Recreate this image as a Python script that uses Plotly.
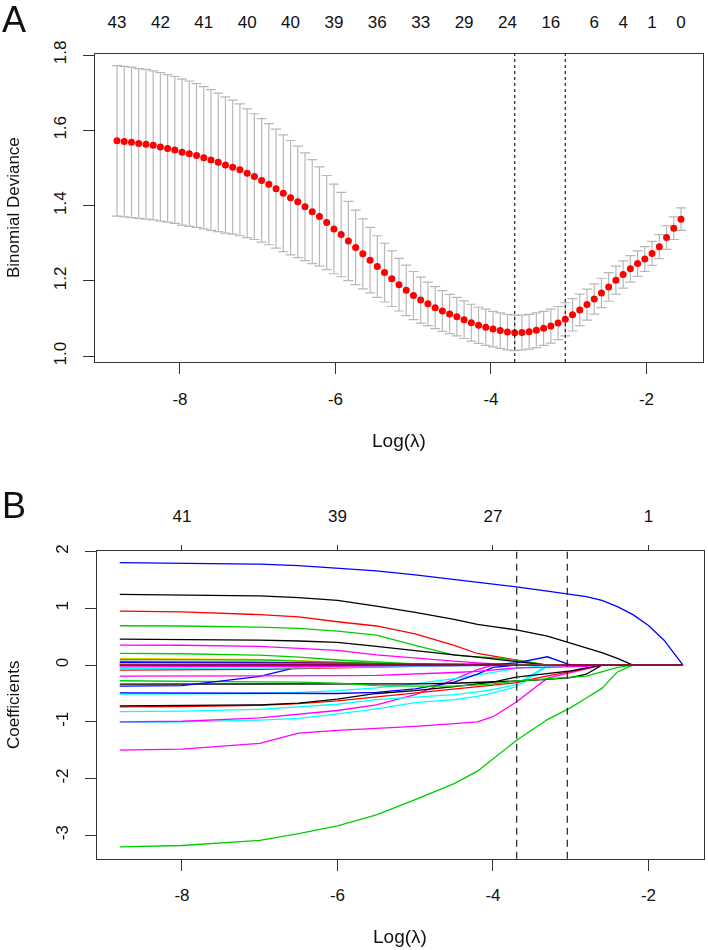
import plotly.graph_objects as go

# ---------------- panel A : cross-validated binomial deviance ----------------
log_lambda = [
    -8.810, -8.717, -8.624, -8.531, -8.438, -8.345, -8.252, -8.159, -8.066, -7.973,
    -7.880, -7.787, -7.694, -7.601, -7.508, -7.415, -7.322, -7.229, -7.136, -7.043,
    -6.950, -6.857, -6.764, -6.671, -6.578, -6.485, -6.392, -6.299, -6.206, -6.113,
    -6.020, -5.927, -5.834, -5.741, -5.648, -5.555, -5.462, -5.369, -5.276, -5.183,
    -5.090, -4.997, -4.904, -4.811, -4.718, -4.625, -4.532, -4.439, -4.346, -4.253,
    -4.160, -4.067, -3.974, -3.881, -3.788, -3.695, -3.602, -3.509, -3.416, -3.323,
    -3.230, -3.137, -3.044, -2.951, -2.858, -2.765, -2.672, -2.579, -2.486, -2.393,
    -2.300, -2.207, -2.114, -2.021, -1.928, -1.835, -1.742, -1.649, -1.556]

mean_dev = [
    1.572, 1.570, 1.568, 1.565, 1.563, 1.560, 1.556, 1.552, 1.548, 1.542,
    1.538, 1.533, 1.527, 1.521, 1.515, 1.508, 1.502, 1.495, 1.486, 1.477,
    1.467, 1.457, 1.445, 1.433, 1.421, 1.410, 1.397, 1.384, 1.371, 1.355,
    1.338, 1.323, 1.306, 1.289, 1.272, 1.255, 1.238, 1.222, 1.206, 1.190,
    1.175, 1.161, 1.149, 1.139, 1.129, 1.120, 1.112, 1.105, 1.097, 1.089,
    1.082, 1.077, 1.072, 1.068, 1.064, 1.062, 1.063, 1.065, 1.069, 1.074,
    1.080, 1.088, 1.098, 1.110, 1.123, 1.137, 1.152, 1.168, 1.184, 1.202,
    1.217, 1.232, 1.246, 1.258, 1.273, 1.291, 1.315, 1.340, 1.364]

se_dev = [
    0.200, 0.200, 0.200, 0.199, 0.199, 0.198, 0.197, 0.196, 0.195, 0.194,
    0.193, 0.191, 0.189, 0.187, 0.184, 0.181, 0.178, 0.175, 0.171, 0.167,
    0.164, 0.161, 0.158, 0.155, 0.152, 0.148, 0.143, 0.138, 0.132, 0.125,
    0.119, 0.112, 0.105, 0.099, 0.093, 0.087, 0.082, 0.078, 0.074, 0.070,
    0.067, 0.064, 0.061, 0.058, 0.056, 0.054, 0.052, 0.051, 0.050, 0.049,
    0.048, 0.048, 0.047, 0.047, 0.047, 0.047, 0.046, 0.046, 0.046, 0.045,
    0.045, 0.044, 0.044, 0.043, 0.042, 0.041, 0.040, 0.039, 0.038, 0.037,
    0.036, 0.035, 0.034, 0.033, 0.032, 0.032, 0.031, 0.030, 0.030]

top_a_pos = [-8.810, -8.252, -7.694, -7.136, -6.578, -6.020, -5.462, -4.904,
             -4.346, -3.788, -3.230, -2.672, -2.300, -1.928, -1.556]
top_a_labels = ["43", "42", "41", "40", "40", "39", "36", "33",
                "29", "24", "16", "6", "4", "1", "0"]

lambda_min_log = -3.695
lambda_1se_log = -3.044

x_ticks = [-8, -6, -4, -2]
x_ticklabels = ["-8", "-6", "-4", "-2"]
dev_ticks = [1.0, 1.2, 1.4, 1.6, 1.8]
dev_ticklabels = ["1.0", "1.2", "1.4", "1.6", "1.8"]
coef_ticks = [-3, -2, -1, 0, 1, 2]
coef_ticklabels = ["-3", "-2", "-1", "0", "1", "2"]

# ---------------- panel B : coefficient paths ----------------
knots = [-8.80, -8.0, -7.0, -6.5, -6.0, -5.5, -5.0, -4.5, -4.2, -4.0,
         -3.7, -3.3, -3.0, -2.8, -2.6, -2.4, -2.2, -2.0, -1.8, -1.556]

blue_1 = [1.806, 1.80, 1.78, 1.755, 1.71, 1.66, 1.59, 1.51, 1.465, 1.43,
          1.38, 1.306, 1.247, 1.206, 1.14, 1.03, 0.89, 0.70, 0.44, 0.0]
black_1 = [1.247, 1.24, 1.22, 1.19, 1.14, 1.04, 0.93, 0.805, 0.72, 0.68,
           0.62, 0.51, 0.39, 0.30, 0.22, 0.12, 0, 0, 0, 0]
red_1 = [0.953, 0.94, 0.89, 0.85, 0.765, 0.69, 0.55, 0.35, 0.205, 0.16,
         0.09, 0, 0, 0, 0, 0, 0, 0, 0, 0]
green_1 = [0.694, 0.69, 0.67, 0.647, 0.60, 0.53, 0.35, 0.176, 0.147, 0.13,
           0.088, 0, 0, 0, 0, 0, 0, 0, 0, 0]
black_2 = [0.459, 0.455, 0.44, 0.425, 0.40, 0.33, 0.25, 0.18, 0.14, 0.11,
           0.07, 0, 0, 0, 0, 0, 0, 0, 0, 0]
magenta_1 = [0.353, 0.35, 0.33, 0.30, 0.26, 0.18, 0.12, 0.07, 0.04, 0.02,
             0, 0, 0, 0, 0, 0, 0, 0, 0, 0]
green_2 = [0.206, 0.20, 0.175, 0.14, 0.09, 0.05, 0.02, 0, 0, 0,
           0, 0, 0, 0, 0, 0, 0, 0, 0, 0]
yellow_1 = [0.12, 0.115, 0.10, 0.08, 0.05, 0.02, 0, 0, 0, 0,
            0, 0, 0, 0, 0, 0, 0, 0, 0, 0]
green_5 = [0.10, 0.10, 0.09, 0.07, 0.05, 0.03, 0.015, 0, 0, 0,
           0, 0, 0, 0, 0, 0, 0, 0, 0, 0]
gray_1 = [0.08, 0.075, 0.06, 0.04, 0.02, 0, 0, 0, 0, 0,
          0, 0, 0, 0, 0, 0, 0, 0, 0, 0]
red_2 = [0.06, 0.058, 0.05, 0.045, 0.035, 0.02, 0.01, 0, 0, 0,
         0, 0, 0, 0, 0, 0, 0, 0, 0, 0]
blue_2 = [0.045, 0.045, 0.04, 0.035, 0.03, 0.025, 0.02, 0.015, 0.01, 0.005,
          0, 0, 0, 0, 0, 0, 0, 0, 0, 0]
cyan_1 = [0.025, 0.025, 0.022, 0.02, 0.018, 0.015, 0.012, 0.01, 0.008, 0.005,
          0, 0, 0, 0, 0, 0, 0, 0, 0, 0]
blue_3 = [0, 0, 0, 0, 0, 0, 0, 0, 0, 0.01,
          0.04, 0.147, 0, 0, 0, 0, 0, 0, 0, 0]
magenta_2 = [-0.03, -0.03, -0.03, -0.025, -0.02, -0.015, -0.01, -0.005, 0, 0,
             0, 0, 0, 0, 0, 0, 0, 0, 0, 0]
cyan_5 = [-0.06, -0.06, -0.055, -0.05, -0.04, -0.03, -0.02, -0.01, 0, 0,
          0, 0, 0, 0, 0, 0, 0, 0, 0, 0]
red_3 = [-0.088, -0.085, -0.075, -0.06, -0.045, -0.03, -0.015, 0, 0, 0,
         0, 0, 0, 0, 0, 0, 0, 0, 0, 0]
magenta_3 = [-0.194, -0.195, -0.195, -0.19, -0.185, -0.18, -0.16, -0.13, -0.11, -0.09,
             -0.05, -0.04, -0.03, -0.02, 0, 0, 0, 0, 0, 0]
blue_4 = [-0.37, -0.36, -0.20, -0.03, 0, 0, 0, 0, 0, 0,
          0, 0, 0, 0, 0, 0, 0, 0, 0, 0]
green_3 = [-0.276, -0.28, -0.29, -0.30, -0.32, -0.36, -0.37, -0.37, -0.35, -0.33,
           -0.28, -0.24, -0.22, -0.195, -0.12, -0.04, 0, 0, 0, 0]
black_3 = [-0.335, -0.335, -0.335, -0.335, -0.34, -0.335, -0.33, -0.32, -0.31, -0.30,
           -0.28, -0.25, -0.22, -0.16, 0, 0, 0, 0, 0, 0]
blue_5 = [-0.49, -0.49, -0.49, -0.495, -0.50, -0.48, -0.42, -0.30, -0.16, -0.04,
          0, 0, 0, 0, 0, 0, 0, 0, 0, 0]
cyan_2 = [-0.51, -0.51, -0.50, -0.48, -0.45, -0.40, -0.33, -0.24, -0.17, -0.12,
          -0.06, 0, 0, 0, 0, 0, 0, 0, 0, 0]
black_4 = [-0.718, -0.715, -0.70, -0.67, -0.60, -0.50, -0.45, -0.38, -0.33, -0.30,
           -0.21, -0.15, -0.10, -0.05, 0, 0, 0, 0, 0, 0]
red_4 = [-0.735, -0.73, -0.71, -0.68, -0.63, -0.56, -0.50, -0.43, -0.39, -0.36,
         -0.31, -0.19, -0.12, -0.06, 0, 0, 0, 0, 0, 0]
cyan_3 = [-0.82, -0.81, -0.78, -0.74, -0.69, -0.61, -0.57, -0.52, -0.47, -0.43,
          -0.34, 0, 0, 0, 0, 0, 0, 0, 0, 0]
magenta_4 = [-1.0, -0.99, -0.93, -0.87, -0.80, -0.70, -0.52, -0.25, -0.08, 0,
             0, 0, 0, 0, 0, 0, 0, 0, 0, 0]
cyan_4 = [-1.01, -1.0, -0.97, -0.94, -0.86, -0.77, -0.66, -0.61, -0.55, -0.49,
          -0.38, -0.02, 0, 0, 0, 0, 0, 0, 0, 0]
magenta_5 = [-1.5, -1.48, -1.38, -1.2, -1.15, -1.12, -1.08, -1.03, -1.0, -0.91,
             -0.65, -0.23, -0.13, -0.06, 0, 0, 0, 0, 0, 0]
green_4 = [-3.206, -3.18, -3.09, -2.97, -2.835, -2.64, -2.37, -2.09, -1.87, -1.65,
           -1.33, -0.96, -0.75, -0.58, -0.41, -0.12, 0, 0, 0, 0]
black_5 = [0, 0, 0, 0, 0, 0, 0, 0, 0, 0, 0, 0, 0, 0, 0, 0, 0, 0, 0, 0]
red_5 = [0, 0, 0, 0, 0, 0, 0, 0, 0, 0, 0, 0, 0, 0, 0, 0, 0, 0, 0, 0]

top_b_pos = [-8, -6, -4, -2]
top_b_labels = ["41", "39", "27", "1"]

R_COL = {"black": "#000000", "red": "#FF0000", "green": "#00CD00", "blue": "#0000FF",
         "cyan": "#00FFFF", "magenta": "#FF00FF", "yellow": "#FFD700", "gray": "#BEBEBE"}

paths = [
    (green_4, "green"), (magenta_5, "magenta"), (cyan_4, "cyan"), (magenta_4, "magenta"),
    (cyan_3, "cyan"), (red_4, "red"), (black_4, "black"), (cyan_2, "cyan"),
    (blue_5, "blue"), (black_3, "black"), (green_3, "green"), (blue_4, "blue"),
    (magenta_3, "magenta"), (red_3, "red"), (cyan_5, "cyan"), (magenta_2, "magenta"),
    (blue_1, "blue"), (black_1, "black"), (red_1, "red"), (green_1, "green"),
    (black_2, "black"), (magenta_1, "magenta"), (green_2, "green"), (yellow_1, "yellow"),
    (green_5, "green"), (gray_1, "gray"), (red_2, "red"), (blue_2, "blue"),
    (cyan_1, "cyan"), (blue_3, "blue"), (black_5, "black"), (red_5, "red"),
]

FONT = "Liberation Sans, Arial, sans-serif"
FW, FH = 708, 950


def fx(p):
    return p / FW


def fy(p):
    return 1 - p / FH


fig = go.Figure()

# panel A
fig.add_trace(go.Scatter(
    x=log_lambda, y=mean_dev, mode="markers",
    marker=dict(color="#FF0000", size=7),
    error_y=dict(type="data", array=se_dev, color="#B8B8B8", thickness=1.2, width=5),
    xaxis="x", yaxis="y", showlegend=False, hoverinfo="skip"))
fig.add_trace(go.Scatter(x=log_lambda, y=mean_dev, mode="markers", opacity=0,
                         xaxis="x3", yaxis="y", showlegend=False, hoverinfo="skip"))

# panel B
for vals, col in paths:
    fig.add_trace(go.Scatter(x=knots, y=vals, mode="lines",
                             line=dict(color=R_COL[col], width=1.3),
                             xaxis="x2", yaxis="y2", showlegend=False, hoverinfo="skip"))
fig.add_trace(go.Scatter(x=knots, y=green_4, mode="markers", opacity=0,
                         xaxis="x4", yaxis="y2", showlegend=False, hoverinfo="skip"))

# vertical reference lines
for v in (lambda_min_log, lambda_1se_log):
    fig.add_shape(type="line", xref="x", yref="y domain", x0=v, x1=v, y0=0, y1=1,
                  line=dict(color="#222222", width=1.2, dash="dot"))
    fig.add_shape(type="line", xref="x2", yref="y2 domain", x0=v, x1=v, y0=0, y1=1,
                  line=dict(color="#222222", width=1.2, dash="7px,5px"))

tickfont = dict(family=FONT, size=17, color="#111111")
box = dict(showline=True, linecolor="#333333", linewidth=1.3, mirror=True,
           showgrid=False, zeroline=False, ticks="outside", ticklen=11,
           tickcolor="#333333", tickwidth=1.2, automargin=False, tickfont=tickfont)

xr_a = [-9.093, -1.273]
xr_b = [-9.093, -1.286]

fig.update_layout(
    template="none",
    width=FW, height=FH, margin=dict(l=0, r=0, t=0, b=0, pad=0),
    paper_bgcolor="white", plot_bgcolor="white",
    xaxis=dict(domain=[fx(95), fx(703)], anchor="y", range=xr_a,
               tickvals=x_ticks, ticktext=x_ticklabels, ticklabelstandoff=10, **box),
    yaxis=dict(domain=[fy(362), fy(54)], anchor="x", range=[0.9846, 1.8027],
               tickvals=dev_ticks, ticktext=dev_ticklabels, tickangle=-90,
               ticklabelstandoff=10, **box),
    xaxis3=dict(overlaying="x", side="top", anchor="y", range=xr_a,
                tickvals=top_a_pos, ticktext=top_a_labels, ticks="",
                showline=False, showgrid=False, zeroline=False, automargin=False,
                ticklabelstandoff=22, tickfont=tickfont),
    xaxis2=dict(domain=[fx(97), fx(704)], anchor="y2", range=xr_b,
                tickvals=x_ticks, ticktext=x_ticklabels, ticklabelstandoff=10, **box),
    yaxis2=dict(domain=[fy(858.7), fy(551)], anchor="x2", range=[-3.413, 2.012],
                tickvals=coef_ticks, ticktext=coef_ticklabels, tickangle=-90,
                ticklabelstandoff=10, **box),
    xaxis4=dict(overlaying="x2", side="top", anchor="y2", range=xr_b,
                tickvals=top_b_pos, ticktext=top_b_labels, ticks="outside", ticklen=5,
                tickcolor="#333333", showline=False, showgrid=False, zeroline=False,
                automargin=False, ticklabelstandoff=16, tickfont=tickfont),
)


def note(text, x, y, size, angle=0):
    fig.add_annotation(text=text, xref="paper", yref="paper", x=fx(x), y=fy(y),
                       showarrow=False, textangle=angle, xanchor="center", yanchor="middle",
                       font=dict(family=FONT, size=size, color="#111111"))


note("A", 14, 19, 36)
note("B", 14, 505, 36)
note("Log(λ)", 399, 440, 19)
note("Log(λ)", 400, 936, 19)
note("Binomial Deviance", 13, 208, 17, -90)
note("Coefficients", 13, 705, 17, -90)

# drop the browser's default 8px body margin so the figure sits in the corner
fig.write_html("out.html", config={"displayModeBar": False},
               post_script="document.body.style.margin = '0px';")
